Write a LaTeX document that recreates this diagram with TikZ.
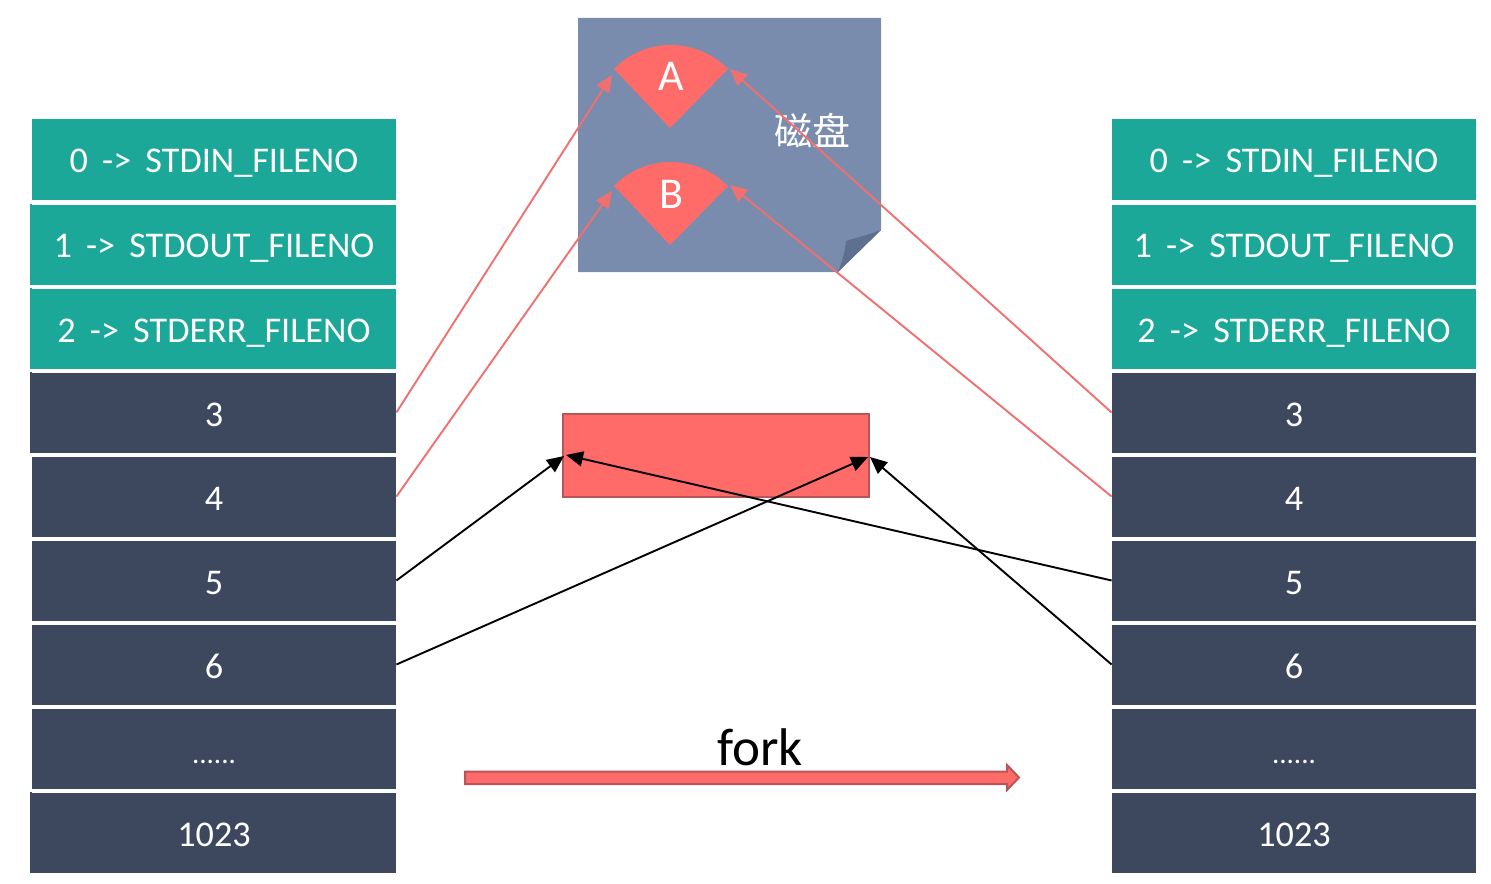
\documentclass[tikz,border=0pt]{standalone}
\usepackage{fontspec}
\setmainfont{Carlito}
\newfontfamily\cjk{Noto Sans CJK SC}
\usetikzlibrary{arrows.meta}
\definecolor{tealcell}{HTML}{1BA898}
\definecolor{navycell}{HTML}{3D485F}
\definecolor{paper}{HTML}{7A8CAD}
\definecolor{paperfold}{HTML}{5E7090}
\definecolor{coral}{HTML}{FF6B68}
\definecolor{coraledge}{HTML}{B85558}
\definecolor{coralline}{HTML}{F07070}
\newcommand{\arrowgap}{\hspace{3pt}}
\tikzset{
  x=0.5pt,y=-0.5pt,
  cell/.style={minimum width=182pt,minimum height=40pt,inner sep=0pt,text=white,font=\fontsize{18.1}{20}\selectfont,text height=14.2pt,text depth=0pt,anchor=center},
  stdcell/.style={cell,fill=tealcell},
  fdcell/.style={cell,fill=navycell},
  dotcell/.style={fdcell,font=\fontsize{14.5}{16}\selectfont,text height=15pt},
  sectorfill/.style={fill=coral},
  letter/.style={text=white,font=\fontsize{22}{24}\selectfont,inner sep=0pt},
  redlink/.style={draw=coralline,line width=0.95pt,-{Triangle[length=8.5pt,width=7.5pt,fill=coralline]}},
  blacklink/.style={draw=black,line width=0.95pt,-{Triangle[length=8.5pt,width=7.5pt,fill=black]}},
}
\begin{document}
\begin{tikzpicture}
\useasboundingbox (0,0) rectangle (1491,883);
% File descriptor tables of parent and child
\foreach \side/\cx in {l/214,r/1294}{
  \node[stdcell,minimum height=40.5pt,text height=13pt] (\side0) at (\cx,159.5) {0 \arrowgap-> \arrowgap STDIN\_FILENO};
  \node[stdcell,text height=13pt] (\side1) at (\cx,244.5) {1 \arrowgap-> \arrowgap STDOUT\_FILENO};
  \node[stdcell] (\side2) at (\cx,328.5) {2 \arrowgap-> \arrowgap STDERR\_FILENO};
  \node[fdcell] (\side3) at (\cx,412.5) {3};
  \node[fdcell] (\side4) at (\cx,496.5) {4};
  \node[fdcell] (\side5) at (\cx,580.5) {5};
  \node[fdcell] (\side6) at (\cx,664.5) {6};
  \node[dotcell] (\side7) at (\cx,748.5) {......};
  \node[fdcell] (\side8) at (\cx,832.5) {1023};
}
% Slightly wider left edge on some cells of the left table
\foreach \row/\shade in {1/tealcell,2/tealcell,3/navycell,8/navycell}{
  \fill[\shade] (l\row.north west) ++(-2,0) rectangle (l\row.south west);
}
% Disk sheet with its turned-up corner
\fill[paper] (578,18) -- (881,18) -- (881,230) -- (838,272) -- (578,272) -- cycle;
\fill[paperfold] (881,230) .. controls (865,236) and (855,238) .. (846,241) .. controls (845,252) and (842,262) .. (838,272) -- cycle;
% Two sectors on the disk
\fill[sectorfill] (670,128) -- (614,69) .. controls (645,37) and (696,37) .. (728,69) -- cycle;
\fill[sectorfill] (670,245) -- (614,186) .. controls (645,154) and (696,154) .. (728,186) -- cycle;
\node[letter] (a) at (671,76) {A};
\node[letter] (b) at (671,194) {B};
\node[text=white,inner sep=0pt,font=\cjk\fontsize{19}{22}\selectfont] (disk) at (812,131) {磁盘};
% Open file entry in memory
\node[draw=coraledge,fill=coral,line width=1pt,minimum width=153pt,minimum height=41.5pt,inner sep=0pt] (mem) at (716,455) {};
\coordinate (aw) at (612,75);
\coordinate (ae) at (730,69);
\coordinate (bw) at (612,191);
\coordinate (be) at (730,185);
\coordinate (ml) at (564,456);
\coordinate (ml2) at (566,455);
\coordinate (mr) at (868,457);
\coordinate (mr2) at (870,457);
% Links from the descriptors to the disk sectors
\draw[redlink] (l3.east) -- (aw);
\draw[redlink] (l4.east) -- (bw);
\draw[redlink] (r3.west) -- (ae);
\draw[redlink] (r4.west) -- (be);
% Links from the descriptors to the open file entry
\draw[blacklink] (l5.east) -- (ml);
\draw[blacklink] (l6.east) -- (mr);
\draw[blacklink] (r5.west) -- (ml2);
\draw[blacklink] (r6.west) -- (mr2);
% The fork transition
\fill[coral,draw=coraledge,line width=1pt] (465,771.5) -- (1007,771.5) -- (1007,765) -- (1019,777.5) -- (1007,790) -- (1007,784) -- (465,784) -- cycle;
\node[text=black,inner sep=0pt,font=\fontsize{26.5}{30}\selectfont] (fork) at (760,747) {fork};
\end{tikzpicture}
\end{document}
